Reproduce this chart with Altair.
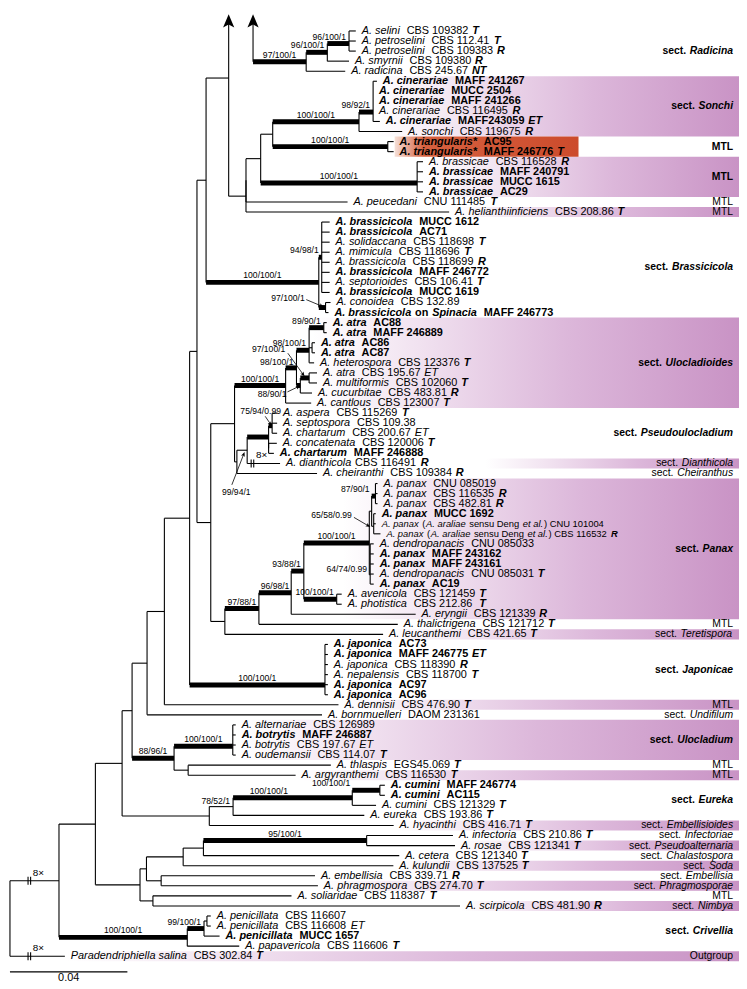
import re
import math
import altair as alt
import pandas as pd

FONT = "Liberation Sans"

# ---------------- data ----------------
# tip labels, top to bottom; {i} italic, {r} regular, {b} bold, {bi} bold italic
TIPS = [
    "{i}A. selini{r}  CBS 109382 {bi}T",
    "{i}A. petroselini{r}  CBS 112.41 {bi}T",
    "{i}A. petroselini{r}  CBS 109383 {bi}R",
    "{i}A. smyrnii{r}  CBS 109380 {bi}R",
    "{i}A. radicina{r}  CBS 245.67 {bi}NT",
    "{bi}A. cinerariae{b}  MAFF 241267",
    "{bi}A. cinerariae{b}  MUCC 2504",
    "{bi}A. cinerariae{b}  MAFF 241266",
    "{i}A. cinerariae{r}  CBS 116495 {bi}R",
    "{bi}A. cinerariae{b}  MAFF243059 {bi}ET",
    "{i}A. sonchi{r}  CBS 119675 {bi}R",
    "{bi}A. triangularis*{b}  AC95",
    "{bi}A. triangularis*{b}  MAFF 246776 {bi}T",
    "{i}A. brassicae{r}  CBS 116528 {bi}R",
    "{bi}A. brassicae{b}  MAFF 240791",
    "{bi}A. brassicae{b}  MUCC 1615",
    "{bi}A. brassicae{b}  AC29",
    "{i}A. peucedani{r}  CNU 111485 {bi}T",
    "{i}A. helianthiinficiens{r}  CBS 208.86 {bi}T",
    "{bi}A. brassicicola{b}  MUCC 1612",
    "{bi}A. brassicicola{b}  AC71",
    "{i}A. solidaccana{r}  CBS 118698 {bi}T",
    "{i}A. mimicula{r}  CBS 118696 {bi}T",
    "{i}A. brassicicola{r}  CBS 118699 {bi}R",
    "{bi}A. brassicicola{b}  MAFF 246772",
    "{i}A. septorioides{r}  CBS 106.41 {bi}T",
    "{bi}A. brassicicola{b}  MUCC 1619",
    "{i}A. conoidea{r}  CBS 132.89",
    "{bi}A. brassicicola{b} on {bi}Spinacia{b}  MAFF 246773",
    "{bi}A. atra{b}  AC88",
    "{bi}A. atra{b}  MAFF 246889",
    "{bi}A. atra{b}  AC86",
    "{bi}A. atra{b}  AC87",
    "{i}A. heterospora{r}  CBS 123376 {bi}T",
    "{i}A. atra{r}  CBS 195.67 {i}ET",
    "{i}A. multiformis{r}  CBS 102060 {bi}T",
    "{i}A. cucurbitae{r}  CBS 483.81 {bi}R",
    "{i}A. cantlous{r}  CBS 123007 {bi}T",
    "{i}A. aspera{r}  CBS 115269 {bi}T",
    "{i}A. septospora{r}  CBS 109.38",
    "{i}A. chartarum{r}  CBS 200.67 {i}ET",
    "{i}A. concatenata{r}  CBS 120006 {bi}T",
    "{bi}A. chartarum{b}  MAFF 246888",
    "{i}A. dianthicola{r} CBS 116491 {bi}R",
    "{i}A. cheiranthi{r}  CBS 109384 {bi}R",
    "{i}A. panax{r}  CNU 085019",
    "{i}A. panax{r}  CBS 116535 {bi}R",
    "{i}A. panax{r}  CBS 482.81 {bi}R",
    "{bi}A. panax{b}  MUCC 1692",
    "{i}A. panax{r} ({i}A. araliae{r} sensu Deng {i}et al.{r}) CNU 101004",
    "{i}A. panax{r} ({i}A. araliae{r} sensu Deng {i}et al.{r}) CBS 116532 {bi}R",
    "{i}A. dendropanacis{r}  CNU 085033",
    "{bi}A. panax{b}  MAFF 243162",
    "{bi}A. panax{b}  MAFF 243161",
    "{i}A. dendropanacis{r}  CNU 085031 {bi}T",
    "{bi}A. panax{b}  AC19",
    "{i}A. avenicola{r}  CBS 121459 {bi}T",
    "{i}A. photistica{r}  CBS 212.86  {bi}T",
    "{i}A. eryngii{r}  CBS 121339 {bi}R",
    "{i}A. thalictrigena{r}  CBS 121712 {bi}T",
    "{i}A. leucanthemi{r}  CBS 421.65 {bi}T",
    "{bi}A. japonica{b}  AC73",
    "{bi}A. japonica{b}  MAFF 246775 {bi}ET",
    "{i}A. japonica{r}  CBS 118390 {bi}R",
    "{i}A. nepalensis{r}  CBS 118700 {bi}T",
    "{bi}A. japonica{b}  AC97",
    "{bi}A. japonica{b}  AC96",
    "{i}A. dennisii{r}  CBS 476.90 {bi}T",
    "{i}A. bornmuelleri{r}  DAOM 231361",
    "{i}A. alternariae{r}  CBS 126989",
    "{bi}A. botrytis{b}  MAFF 246887",
    "{i}A. botrytis{r}  CBS 197.67 {i}ET",
    "{i}A. oudemansii{r}  CBS 114.07 {bi}T",
    "{i}A. thlaspis{r}  EGS45.069 {bi}T",
    "{i}A. argyranthemi{r}  CBS 116530 {bi}T",
    "{bi}A. cumini{b}  MAFF 246774",
    "{bi}A. cumini{b}  AC115",
    "{i}A. cumini{r}  CBS 121329 {bi}T",
    "{i}A. eureka{r}  CBS 193.86 {bi}T",
    "{i}A. hyacinthi{r}  CBS 416.71 {bi}T",
    "{i}A. infectoria{r}  CBS 210.86 {bi}T",
    "{i}A. rosae{r}  CBS 121341 {bi}T",
    "{i}A. cetera{r}  CBS 121340 {bi}T",
    "{i}A. kulundii{r}  CBS 137525 {bi}T",
    "{i}A. embellisia{r}  CBS 339.71 {bi}R",
    "{i}A. phragmospora{r}  CBS 274.70 {bi}T",
    "{i}A. soliaridae{r}  CBS 118387 {bi}T",
    "{i}A. scirpicola{r}  CBS 481.90 {bi}R",
    "{i}A. penicillata{r}  CBS 116607",
    "{i}A. penicillata{r}  CBS 116608 {i}ET",
    "{bi}A. penicillata{b}  MUCC 1657",
    "{i}A. papavericola{r}  CBS 116606 {bi}T",
    "{i}Paradendriphiella salina{r}  CBS 302.84 {bi}T",
]

# tree pieces in Newick; leaves are tip numbers, branch lengths in 1e-3 substitutions/site
# internal label = "name|support", a trailing * marks a thick (well-supported) branch
JAPONICAE = "(62:1.0,63:1.0,64:1.0,65:1.0,66:1.0,67:1.0)100/100/1*:46.1"
ULOCLADIOIDES = ("((((30:1.0,31:1.0)89/90/1*:5.0,(32:1.0,33:1.0):1.0,34:1.7)98/100/1*:4.3,"
                 "((35:2.7,36:2.7)UL7|97/100/1*:3.0,37:4.0)UL6|88/90/1*:1.3)UL2|98/100/1*:3.7,"
                 "38:8.7)100/100/1*:17.4")
PSEUDOULOCLADIUM = ("(((39:1.7,40:1.7,41:1.7)PS3|75/94/0.99*:1.2,(42:2.8,43:1.8):0)*:7.3,"
                    "44:11.2)PS1|99/94/1:3.5")
PANAX = ("(((((((46:0.7,47:0.7,48:0.7)PA1|87/90/1*:1.3,(49:0.7,50:0.7,51:2.3)PA2|65/58/0.99:0.7):0.8,"
         "(52:1.2,53:1.2,54:1.2,55:1.2,56:1.2)PB|64/74/0.99:0.3)100/100/1*:22.3,"
         "(57:1.7,58:1.7)100/100/1*:11.2)93/88/1*:4.3,59:42.4)96/98/1*:11.0,60:47.3)97/88/1*:11.6,"
         "61:53.9):4.8")
SONCHI_GROUP = ("((((((6:1.3,7:0,8:0,9:0,10:2.3)98/92/1*:4.8,11:14.7)100/100/1*:29.4,"
                "(12:2.0,13:2.0)100/100/1*:39.2):4.1,"
                "(14:2.0,15:2.0,16:2.0,17:2.0)100/100/1*:53.3):5.0,18:34.6):0,19:69.2):5.9")
BRASSICICOLA = ("((20:2.7,21:2.7,22:2.7,23:2.7,24:2.7,25:2.7,26:2.7,27:2.7)Br2|94/98/1*:1.0,"
                "(28:1.7,29:1.0)Br3|97/100/1*:2.3)100/100/1*:38.4")
ULOCLADIUM = "((70:1.0,71:1.0,72:1.0,73:1.0)100/100/1*:20.0,(74:48.6,75:36.6):4.8)88/96/1*:14.3"
EUREKA = ("((((76:1.7,77:1.7)CU2|100/100/1*:9.4,78:8.1)CU1|100/100/1*:40.6,79:44.7)78/52/1:8.1,"
          "80:62.8):29.7")
INFECTORIAE = ("(((((81:29.4,82:30.1)95/100/1*:55.6,83:66.7):6.9,84:71.6):12.5,"
               "(85:52.4,86:53.4):5.0):2.2,(87:47.2,88:104.6):4.4):15.2")
CRIVELLIA = "(((89:1.3,90:1.3):1.0,91:5.3)99/100/1*:5.7,92:17.7)100/100/1*:43.7"

MAIN_TREE = (
    "(" * 11 + SONCHI_GROUP + ")ARROW|:7.7," + BRASSICICOLA + "):3.1,"
    "((" + ULOCLADIOIDES + ",(" + PSEUDOULOCLADIUM + ",45:27.3):0.8):8.1," + PANAX + "):4.7):2.5,"
    + JAPONICAE + "):8.6,68:59.3):5.9,69:59.6):5.1," + ULOCLADIUM + "):3.4,"
    + EUREKA + "):9.1," + INFECTORIAE + "):12.4," + CRIVELLIA + ")I1|:16.7,93:18.7)"
)
# sect. Radicina hangs from a truncated (arrowed) stem
RADICINA_TREE = "(((1:2.3,2:2.3,3:2.3)96/100/1*:7.4,4:7.4)96/100/1*:7.2,5:13.3)97/100/1*:18.1"
RADICINA_STEM_OFFSET = 8.3

# sections on the right: first tip, last tip, label, band
SECTIONS = [
    (1, 5, "{b}sect. {bi}Radicina", None),
    (6, 11, "{b}sect. {bi}Sonchi", "purple"),
    (12, 13, "{b}MTL", "red"),
    (14, 17, "{b}MTL", "purple"),
    (18, 18, "{r}MTL", None),
    (19, 19, "{r}MTL", "purple"),
    (20, 29, "{b}sect. {bi}Brassicicola", None),
    (30, 38, "{b}sect. {bi}Ulocladioides", "purple"),
    (39, 43, "{b}sect. {bi}Pseudoulocladium", None),
    (44, 44, "{r}sect. {i}Dianthicola", "purple"),
    (45, 45, "{r}sect. {i}Cheiranthus", None),
    (46, 59, "{b}sect. {bi}Panax", "purple"),
    (60, 60, "{r}MTL", None),
    (61, 61, "{r}sect. {i}Teretispora", "purple"),
    (62, 67, "{b}sect. {bi}Japonicae", None),
    (68, 68, "{r}MTL", "purple"),
    (69, 69, "{r}sect. {i}Undifilum", None),
    (70, 73, "{b}sect. {bi}Ulocladium", "purple"),
    (74, 74, "{r}MTL", None),
    (75, 75, "{r}MTL", "purple"),
    (76, 79, "{b}sect. {bi}Eureka", None),
    (80, 80, "{r}sect. {i}Embellisioides", "purple"),
    (81, 81, "{r}sect. {i}Infectoriae", None),
    (82, 82, "{r}sect. {i}Pseudoalternaria", "purple"),
    (83, 83, "{r}sect. {i}Chalastospora", None),
    (84, 84, "{r}sect. {i}Soda", "purple"),
    (85, 85, "{r}sect. {i}Embellisia", None),
    (86, 86, "{r}sect. {i}Phragmosporae", "purple"),
    (87, 87, "{r}MTL", None),
    (88, 88, "{r}sect. {i}Nimbya", "purple"),
    (89, 92, "{b}sect. {bi}Crivellia", None),
    (93, 93, "{r}Outgroup", "purple"),
]

BREAKS = {"I1": 6.6, "93": 6.6, "44": 1.8}   # "8x" compressed branches
SCALE_BAR = 40.0                              # 0.04 substitutions/site
SCALE_LABEL = "0.04"

# ---------------- layout constants (styling) ----------------
W, H = 739, 981
REF_W = 747
X_DOMAIN = [-0.667, 248.333]
Y_DOMAIN = [-0.756, 95.732]
PX_X = W / (X_DOMAIN[1] - X_DOMAIN[0])
PX_Y = H / (Y_DOMAIN[1] - Y_DOMAIN[0])
ARROW_TOP = 0.0
ATTACH_Y = {"ARROW": 5.68}
MIDPOINT_NODES = {"Br2"}     # other multifurcations are drawn as ladderised zero-length nodes
LABEL_GAP = 6.0
SEG_PAD = 0.8
TIP_SIZE = 11
TIP_SIZE_OVERRIDE = {50: 9.5, 51: 9.5}
SECTION_SIZE = 10.5
SUP_SIZE = 8.7
SECTION_RIGHT_PX = 741
RED_BAND_RIGHT_PX = 583
BAND_START_PX = {44: 488}
# arrowed / displaced support labels: text right edge dx, text centre dy, arrow start, arrow end (px)
ARROW_LABELS = {
    "Br3": (-21.0, -10.0, (-19.5, -8.0), (-4.0, -1.5)),
    "UL7": (-24.0, -29.0, (-21.5, -25.0), (-6.0, -3.5)),
    "UL6": (-14.0, 8.5, (-13.0, 6.5), (-2.0, 1.2)),
    "PS3": (9.0, -15.0, (-7.0, -9.5), (-1.5, -1.5)),
    "PS1": (3.5, 42.0, (-15.5, 35.0), (-3.5, 4.0)),
    "PA2": (-22.0, -11.0, (-20.0, -9.0), (-5.5, -0.5)),
    "PB": (-3.0, -6.0, None, None),
}
LEFT_LABELS = {"CU2", "PA1"}
LABEL_FRAC = {"CU1": 0.3}
LABEL_DY = {"UL2": -5.5}
PURPLE = [("#ffffff", 0.0), ("#f1e2f0", 0.25), ("#dcb7da", 0.6), ("#c993c5", 1.0)]
RED = [("#f6e0d8", 0.0), ("#d6603f", 0.16), ("#cc4b2c", 1.0)]

UPPER = "ABCDEFGHIJKLMNOPQRSTUVWXYZ"
LOWER = "abcdefghijklmnopqrstuvwxyz"
PUNCT = {" ": 278, ".": 278, "/": 278, "(": 333, ")": 333, "*": 389, "\u00d7": 584, "-": 333}
W_REG = {**dict(zip(UPPER, [667, 667, 722, 722, 667, 611, 778, 722, 278, 500, 667, 556, 833, 722, 778, 667,
                            778, 722, 667, 611, 722, 667, 944, 667, 667, 611])),
         **dict(zip(LOWER, [556, 556, 500, 556, 556, 278, 556, 556, 222, 222, 500, 222, 833, 556, 556, 556,
                            556, 333, 500, 278, 556, 500, 722, 500, 500, 500])),
         **{d: 556 for d in "0123456789"}, **PUNCT}
W_BOLD = {**dict(zip(UPPER, [722, 722, 722, 722, 667, 611, 778, 722, 278, 556, 722, 611, 833, 722, 778, 667,
                             778, 722, 667, 611, 722, 667, 944, 667, 667, 611])),
          **dict(zip(LOWER, [556, 611, 556, 611, 556, 333, 611, 611, 278, 278, 556, 278, 889, 611, 611, 611,
                             611, 389, 556, 333, 611, 556, 778, 556, 556, 500])),
          **{d: 556 for d in "0123456789"}, **PUNCT}


def tw(text, style, size):
    table = W_BOLD if "b" in style else W_REG
    return sum(table.get(c, 556) for c in text) * size / 1000.0


def ref_x(px):
    return X_DOMAIN[0] + px / REF_W * (X_DOMAIN[1] - X_DOMAIN[0])


SEG_RE = re.compile(r"\{(r|i|b|bi)\}([^{]*)")


def runs(markup, x0, y, size, rows=None):
    cur = 0.0
    first = True
    for style, txt in SEG_RE.findall(markup):
        core = txt.strip(" ")
        sp = tw(" ", style, size)
        if not core:
            cur += len(txt) * sp
            continue
        lead = len(txt) - len(txt.lstrip(" "))
        trail = len(txt) - len(txt.rstrip(" "))
        cur += lead * sp + (0 if first else SEG_PAD)
        first = False
        if rows is not None:
            rows.append(dict(x=x0 + cur / PX_X, y=y, text=core, size=size, style=style))
        cur += tw(core, style, size) + trail * sp
    return cur


# ---------------- tree parsing & layout ----------------
def parse(s):
    s = re.sub(r"\s+", "", s)
    pos = 0
    lab_re = re.compile(r"[^:,()]*")
    num_re = re.compile(r"[-0-9.eE]+")

    def node():
        nonlocal pos
        n = {"children": []}
        if s[pos] == "(":
            pos += 1
            n["children"].append(node())
            while s[pos] == ",":
                pos += 1
                n["children"].append(node())
            pos += 1
        m = lab_re.match(s, pos)
        lab = m.group(0)
        pos = m.end()
        n["length"] = 0.0
        if pos < len(s) and s[pos] == ":":
            m = num_re.match(s, pos + 1)
            n["length"] = float(m.group(0))
            pos = m.end()
        n["thick"] = lab.endswith("*")
        lab = lab.rstrip("*")
        if not n["children"]:
            n["tip"] = int(lab)
            n["name"] = lab
            n["sup"] = ""
        elif "|" in lab:
            n["name"], n["sup"] = lab.split("|", 1)
        else:
            n["name"], n["sup"] = "", lab
        return n

    return node()


ALL = []


def layout(n, x0):
    n["x0"] = x0
    n["x"] = x0 + n["length"]
    if "tip" in n:
        n["y"] = float(n["tip"])
    else:
        for c in n["children"]:
            layout(c, n["x"])
        ys = [c["y"] for c in n["children"]]
        n["ylo"], n["yhi"] = min(ys), max(ys)
        if n["name"] in MIDPOINT_NODES:
            yy = (ys[0] + ys[-1]) / 2
        else:
            yy = ys[0]
            for v in ys[1:]:
                yy = (yy + v) / 2
        n["y"] = ATTACH_Y.get(n["name"], yy)
        if n["name"] == "ARROW":
            n["ylo"] = ARROW_TOP
    ALL.append(n)


root = parse(MAIN_TREE)
layout(root, 0.0)
arrow_node = [n for n in ALL if n["name"] == "ARROW"][0]
rad = parse(RADICINA_TREE)
stem = arrow_node["x"] + RADICINA_STEM_OFFSET
layout(rad, stem)

thin, thick, arrows_ln, heads, breaks_ln = [], [], [], [], []
texts = []
for n in ALL:
    if n is not root:
        (thick if n["thick"] else thin).append(dict(x=n["x0"], x2=n["x"], y=n["y"], y2=n["y"]))
    if n["children"]:
        thin.append(dict(x=n["x"], x2=n["x"], y=n["ylo"], y2=n["yhi"]))
thin.append(dict(x=stem, x2=stem, y=ARROW_TOP, y2=rad["y"]))
heads.append(dict(x=arrow_node["x"], y=ARROW_TOP, size=177, angle=0))
heads.append(dict(x=stem, y=ARROW_TOP, size=177, angle=0))

# tip labels
tips = {n["tip"]: n for n in ALL if "tip" in n}
label_x = {}
for t, markup in enumerate(TIPS, start=1):
    x0 = tips[t]["x"] + LABEL_GAP / PX_X
    label_x[t] = x0
    runs(markup, x0, float(t), TIP_SIZE_OVERRIDE.get(t, TIP_SIZE), texts)

# support labels
for n in ALL:
    sup = n.get("sup", "")
    if not sup:
        continue
    w = tw(sup, "r", SUP_SIZE)
    blen = (n["x"] - n["x0"]) * PX_X
    yc = n["y"] + LABEL_DY.get(n["name"], -(7.0 if n["thick"] else 5.5)) / PX_Y
    if n["name"] in ARROW_LABELS:
        rdx, dy, a0, a1 = ARROW_LABELS[n["name"]]
        left = n["x"] + (rdx - w) / PX_X
        yc = n["y"] + dy / PX_Y
        if a0 is not None:
            sx, sy = n["x"] + a0[0] / PX_X, n["y"] + a0[1] / PX_Y
            ex, ey = n["x"] + a1[0] / PX_X, n["y"] + a1[1] / PX_Y
            arrows_ln.append(dict(x=sx, x2=ex, y=sy, y2=ey))
            ang = math.degrees(math.atan2(a1[0] - a0[0], -(a1[1] - a0[1]))) % 360
            heads.append(dict(x=ex, y=ey, size=22, angle=ang))
    elif n["name"] in LEFT_LABELS:
        left = n["x0"] - (2 + w) / PX_X
    elif n["name"] in LABEL_FRAC:
        left = n["x0"] + (n["x"] - n["x0"]) * LABEL_FRAC[n["name"]] - w / 2 / PX_X
    elif w <= blen - 2:
        left = (n["x0"] + n["x"]) / 2 - w / 2 / PX_X
    else:
        left = n["x"] - (3 + w) / PX_X
    texts.append(dict(x=left, y=yc, text=sup, size=SUP_SIZE, style="r"))

# compressed-branch marks
for n in ALL:
    key = n["name"]
    if key in BREAKS:
        bx = n["x0"] + BREAKS[key]
        for d in (-1.3, 1.3):
            breaks_ln.append(dict(x=bx + d / PX_X, x2=bx + d / PX_X,
                                  y=n["y"] - 4 / PX_Y, y2=n["y"] + 4 / PX_Y))
        texts.append(dict(x=bx + 3.5 / PX_X, y=n["y"] - 8 / PX_Y, text="8\u00d7", size=10, style="r"))

# sections: labels and shaded bands
bands_p, bands_r = [], []
for first, last, markup, band in SECTIONS:
    yc = (first + last) / 2
    width = runs(markup, 0, yc, SECTION_SIZE)
    x0 = ref_x(SECTION_RIGHT_PX) - width / PX_X
    runs(markup, x0, yc, SECTION_SIZE, texts)
    if band:
        if first in BAND_START_PX:
            bx = ref_x(BAND_START_PX[first])
        else:
            bx = min(label_x[t] for t in range(first, last + 1)) - 5 / PX_X
        row = dict(x=bx, y=first - 0.5, y2=last + 0.5)
        if band == "red":
            row["x2"] = ref_x(RED_BAND_RIGHT_PX)
            bands_r.append(row)
        else:
            row["x2"] = X_DOMAIN[1]
            bands_p.append(row)

# scale bar
scale_y = 94.56
thin.append(dict(x=0.0, x2=SCALE_BAR, y=scale_y, y2=scale_y))
sw = tw(SCALE_LABEL, "r", TIP_SIZE)
texts.append(dict(x=SCALE_BAR / 2 - sw / 2 / PX_X, y=95.2, text=SCALE_LABEL, size=TIP_SIZE, style="r"))

# ---------------- chart ----------------
xs = alt.Scale(domain=X_DOMAIN, nice=False, zero=False)
ysc = alt.Scale(domain=Y_DOMAIN, nice=False, zero=False, reverse=True)


def X(f="x"):
    return alt.X(f"{f}:Q", scale=xs, axis=None)


def Y(f="y"):
    return alt.Y(f"{f}:Q", scale=ysc, axis=None)


def grad(stops):
    return alt.Gradient(gradient="linear", x1=0, x2=1, y1=0, y2=0,
                        stops=[alt.GradientStop(color=c, offset=o) for c, o in stops])


def rules(rows, width, color="black"):
    return alt.Chart(pd.DataFrame(rows)).mark_rule(strokeWidth=width, color=color).encode(
        x=X(), x2="x2:Q", y=Y(), y2="y2:Q")


layers = [
    alt.Chart(pd.DataFrame(bands_p)).mark_rect(fill=grad(PURPLE), strokeWidth=0).encode(
        x=X(), x2="x2:Q", y=Y(), y2="y2:Q"),
    alt.Chart(pd.DataFrame(bands_r)).mark_rect(fill=grad(RED), strokeWidth=0).encode(
        x=X(), x2="x2:Q", y=Y(), y2="y2:Q"),
    rules(thin, 1.1),
    rules(thick, 5),
    rules(breaks_ln, 1.1),
    rules(arrows_ln, 0.8),
    alt.Chart(pd.DataFrame(heads)).mark_point(
        shape="M0,-1L0.85,1L0,0.55L-0.85,1Z", filled=True, color="black", opacity=1, strokeWidth=0
    ).encode(x=X(), y=Y(), size=alt.Size("size:Q", scale=None), angle=alt.Angle("angle:Q", scale=None)),
]

tdf = pd.DataFrame(texts)
for style in ["r", "i", "b", "bi"]:
    sub = tdf[tdf["style"] == style]
    kw = {}
    if "i" in style:
        kw["fontStyle"] = "italic"
    if "b" in style:
        kw["fontWeight"] = "bold"
    layers.append(alt.Chart(sub).mark_text(align="left", baseline="middle", font=FONT, color="black", **kw)
                  .encode(x=X(), y=Y(), text="text:N", size=alt.Size("size:Q", scale=None)))

chart = alt.layer(*layers).properties(
    width=W, height=H, padding=0, autosize=alt.AutoSizeParams(type="none")
).configure_view(stroke=None)

chart.save("out.html", embed_options={"renderer": "svg", "actions": False})
